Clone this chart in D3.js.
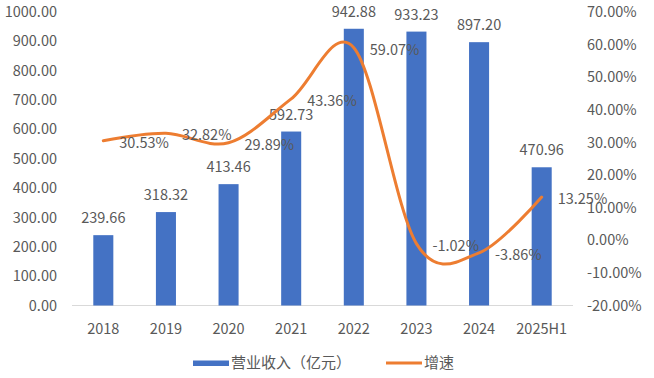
<!DOCTYPE html>
<html>
<head>
<meta charset="utf-8">
<script src="https://cdn.jsdelivr.net/npm/d3@7"></script>
<style>
    body { margin: 0; background: #fff; }
    text { font-family: "Noto Sans CJK SC", "Noto Sans", sans-serif; fill: #595959; }
</style>
</head>
<body>
<div id="chart"></div>
<script>
'use strict';
var categories = ['2018', '2019', '2020', '2021', '2022', '2023', '2024', '2025H1'];
var revenue = [239.66, 318.32, 413.46, 592.73, 942.88, 933.23, 897.20, 470.96];
var growth = [30.53, 32.82, 29.89, 43.36, 59.07, -1.02, -3.86, 13.25];
var leftTicks = [0, 100, 200, 300, 400, 500, 600, 700, 800, 900, 1000];
var rightTicks = [-20, -10, 0, 10, 20, 30, 40, 50, 60, 70];
var legendLabels = ['营业收入（亿元）', '增速'];

var width = 654,
    height = 378;
var blue = '#4472C4',
    orange = '#ED7D31';

// plain hyphen minus, like the original
var fmt = d3.formatLocale({ decimal: '.', thousands: ',', grouping: [3], currency: ['', ''], minus: '-' }).format('.2f');
var pct = function (d) { return fmt(d) + '%'; };

var svg = d3.select('#chart').append('svg')
    .attr('width', width)
    .attr('height', height);

var x = d3.scaleBand().domain(categories).range([72, 573]).paddingInner(0.68).paddingOuter(0.34);
var yLeft = d3.scaleLinear().domain([0, 1000]).range([305.5, 12]);
var yRight = d3.scaleLinear().domain([-20, 70]).range([305.5, 12]);
var cx = function (d, i) { return x(categories[i]) + x.bandwidth() / 2; };

// left axis labels
svg.append('g').selectAll('text').data(leftTicks).enter().append('text')
    .attr('x', 57)
    .attr('y', function (d) { return yLeft(d); })
    .attr('dy', '0.35em')
    .attr('text-anchor', 'end')
    .style('font-size', '14.5px')
    .text(fmt);

// right axis labels
svg.append('g').selectAll('text').data(rightTicks).enter().append('text')
    .attr('x', 587)
    .attr('y', function (d) { return yRight(d); })
    .attr('dy', '0.35em')
    .style('font-size', '14.5px')
    .text(pct);

// bottom axis line
svg.append('line')
    .attr('x1', 72).attr('x2', 573)
    .attr('y1', yLeft(0)).attr('y2', yLeft(0))
    .attr('stroke', '#D9D9D9').attr('stroke-width', 1);

// category labels
svg.append('g').selectAll('text').data(categories).enter().append('text')
    .attr('x', function (d) { return x(d) + x.bandwidth() / 2; })
    .attr('y', 329)
    .attr('dy', '0.35em')
    .attr('text-anchor', 'middle')
    .style('font-size', '14.5px')
    .text(function (d) { return d; });

// bars
svg.append('g').selectAll('rect').data(revenue).enter().append('rect')
    .attr('x', function (d, i) { return x(categories[i]); })
    .attr('y', function (d) { return yLeft(d); })
    .attr('width', x.bandwidth())
    .attr('height', function (d) { return yLeft(0) - yLeft(d); })
    .attr('fill', blue);

// bar labels
svg.append('g').selectAll('text').data(revenue).enter().append('text')
    .attr('x', cx)
    .attr('y', function (d) { return yLeft(d) - 17; })
    .attr('dy', '0.35em')
    .attr('text-anchor', 'middle')
    .style('font-size', '14.5px')
    .text(fmt);

// growth line
var line = d3.line()
    .x(cx)
    .y(function (d) { return yRight(d); })
    .curve(d3.curveCatmullRom.alpha(0));
svg.append('path')
    .datum(growth)
    .attr('d', line)
    .attr('fill', 'none')
    .attr('stroke', orange)
    .attr('stroke-width', 3)
    .attr('stroke-linecap', 'round');

// growth labels
svg.append('g').selectAll('text').data(growth).enter().append('text')
    .attr('x', function (d, i) { return cx(d, i) + 16; })
    .attr('y', function (d) { return yRight(d) + 2; })
    .attr('dy', '0.35em')
    .style('font-size', '14.5px')
    .text(pct);

// legend
var legend = svg.append('g');
legend.append('rect')
    .attr('x', 193).attr('y', 360.5).attr('width', 36).attr('height', 5.5)
    .attr('fill', blue);
legend.append('text')
    .attr('x', 231).attr('y', 363).attr('dy', '0.35em')
    .style('font-size', '15px')
    .text(legendLabels[0]);
legend.append('line')
    .attr('x1', 386).attr('x2', 422).attr('y1', 363).attr('y2', 363)
    .attr('stroke', orange).attr('stroke-width', 3);
legend.append('text')
    .attr('x', 424).attr('y', 363).attr('dy', '0.35em')
    .style('font-size', '15px')
    .text(legendLabels[1]);
</script>
</body>
</html>
